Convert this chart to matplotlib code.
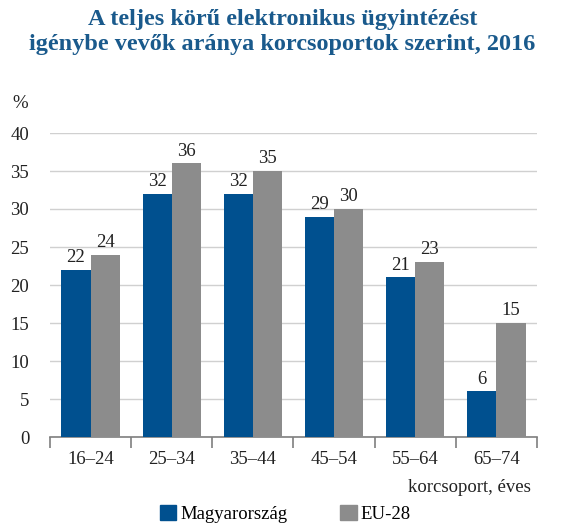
import matplotlib
matplotlib.use("Agg")
import matplotlib.pyplot as plt
import numpy as np
from matplotlib.patches import Patch

categories = ["16–24", "25–34", "35–44", "45–54", "55–64", "65–74"]
hu = [22, 32, 32, 29, 21, 6]
eu = [24, 36, 35, 30, 23, 15]
series_names = ["Magyarország", "EU-28"]
title = "A teljes körű elektronikus ügyintézést\nigénybe vevők aránya korcsoportok szerint, 2016"

blue = "#00508f"
gray = "#8c8c8c"
serif = ["Liberation Serif", "DejaVu Serif"]
fs = 13.5

fig = plt.figure(figsize=(5.65, 5.32), dpi=100)
ax = fig.add_axes([50/565, 1-437/532, 487/565, 304/532])

x = np.arange(len(categories))
w = 0.36
b1 = ax.bar(x - w/2, hu, w, color=blue, zorder=3)
b2 = ax.bar(x + w/2, eu, w, color=gray, zorder=3)
for bars, vals in ((b1, hu), (b2, eu)):
    for r, v in zip(bars, vals):
        ax.text(r.get_x() + r.get_width()/2, v + 0.5, str(v), ha="center", va="bottom",
                fontsize=fs, family=serif, color="#222222")

ax.set_xlim(-0.5, len(categories) - 0.5)
ax.set_ylim(0, 40)
ax.set_yticks(range(0, 41, 5))
ax.yaxis.grid(True, color="#d0d0d0", linewidth=1, zorder=0)
ax.set_axisbelow(True)
for s in ("left", "right", "top"):
    ax.spines[s].set_visible(False)
ax.spines["bottom"].set_color("#7f7f7f")
ax.spines["bottom"].set_linewidth(1.2)

ax.set_xticks(x)
ax.set_xticklabels(categories, family=serif, fontsize=fs, color="#222222")
ax.tick_params(axis="x", length=0, pad=10)
ax.set_xticks(np.arange(-0.5, len(categories), 1), minor=True)
ax.tick_params(axis="x", which="minor", length=8, width=1.2, color="#7f7f7f", direction="out")
ax.tick_params(axis="y", length=0, pad=15)
for lab in ax.get_yticklabels():
    lab.set_family(serif)
    lab.set_fontsize(fs)
    lab.set_color("#222222")

fig.text(12/565, 1-103/532, "%", family=serif, fontsize=fs, color="#222222", va="center")
fig.text(531/565, 1-488/532, "korcsoport, éves", family=serif, fontsize=fs, color="#222222",
         ha="right", va="center")
fig.text(0.5, 1-32/532, title, family=serif, fontsize=17.5, fontweight="bold", color="#1a5a8c",
         ha="center", va="center", linespacing=1.2)

handles = [Patch(color=blue), Patch(color=gray)]
fig.legend(handles, series_names, loc="center", bbox_to_anchor=(285/565, 1-514/532), ncol=2,
           frameon=False, prop={"family": serif, "size": fs}, handlelength=0.9, handleheight=0.9,
           columnspacing=2.8, handletextpad=0.2)

fig.savefig("out.png", dpi=100)
